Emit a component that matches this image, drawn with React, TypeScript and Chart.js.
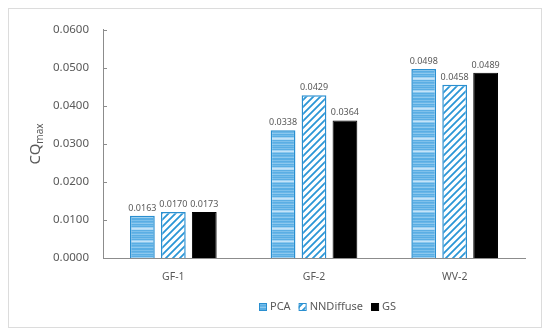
import React, { useEffect, useRef } from "react";
import { Chart, registerables } from "chart.js";

Chart.register(...registerables);

const categories = ["GF-1", "GF-2", "WV-2"];
const seriesNames = ["PCA", "NNDiffuse", "GS"];
const pcaValues = [0.0111, 0.0336, 0.0497];
const nndValues = [0.0121, 0.0428, 0.0456];
const gsValues = [0.0121, 0.0362, 0.0487];
const pcaLabels = ["0.0163", "0.0338", "0.0498"];
const nndLabels = ["0.0170", "0.0429", "0.0458"];
const gsLabels = ["0.0173", "0.0364", "0.0489"];
const yMin = 0;
const yMax = 0.06;
const yStep = 0.01;
const yTitleMain = "CQ";
const yTitleSub = "max";

const FONT = "'Noto Sans', 'Open Sans', sans-serif";
const TEXT = "#595959";
const AXIS = "#8c8c8c";

function makeStripePattern(): CanvasPattern | string {
  const c = document.createElement("canvas");
  c.width = 4;
  c.height = 30;
  const g = c.getContext("2d");
  if (!g) return "#5aaee3";
  const rows = [
    "#5aaee4", "#7dc0eb", "#5aaee4", "#6ab6e7", "#8cc8ee", "#5aaee4",
    "#74bce9", "#5aaee4", "#9fd1f2", "#c4e3f8", "#b2daf5", "#5aaee4",
    "#7dc0eb", "#5aaee4", "#6ab6e7", "#8cc8ee", "#5aaee4", "#74bce9",
    "#5aaee4", "#7dc0eb", "#5aaee4", "#9fd1f2", "#c4e3f8", "#8cc8ee",
    "#5aaee4", "#74bce9", "#5aaee4", "#6ab6e7", "#8cc8ee", "#5aaee4",
  ];
  rows.forEach((col, i) => {
    g.fillStyle = col;
    g.fillRect(0, i, 4, 1);
  });
  return g.createPattern(c, "repeat") || "#5aaee3";
}

function makeHatchPattern(): CanvasPattern | string {
  const s = 7;
  const c = document.createElement("canvas");
  c.width = s;
  c.height = s;
  const g = c.getContext("2d");
  if (!g) return "#ffffff";
  g.fillStyle = "#ffffff";
  g.fillRect(0, 0, s, s);
  g.strokeStyle = "#2b96d6";
  g.lineWidth = 1.8;
  g.beginPath();
  g.moveTo(-1, s + 1);
  g.lineTo(s + 1, -1);
  g.moveTo(-1, 1);
  g.lineTo(1, -1);
  g.moveTo(s - 1, s + 1);
  g.lineTo(s + 1, s - 1);
  g.stroke();
  return g.createPattern(c, "repeat") || "#ffffff";
}

export default function App() {
  const ref = useRef<HTMLCanvasElement | null>(null);

  useEffect(() => {
    if (!ref.current) return;
    const stripe = makeStripePattern();
    const hatch = makeHatchPattern();
    const allLabels = [pcaLabels, nndLabels, gsLabels];
    const fills = [stripe, hatch, "#000000"];
    const borders = ["#2a8fd0", "#2a8fd0", "#000000"];

    const extras = {
      id: "extras",
      afterDatasetsDraw(chart: any) {
        const ctx = chart.ctx;
        ctx.save();
        ctx.font = `9px ${FONT}`;
        ctx.fillStyle = TEXT;
        ctx.textAlign = "center";
        ctx.textBaseline = "bottom";
        chart.data.datasets.forEach((_d: any, i: number) => {
          const meta = chart.getDatasetMeta(i);
          meta.data.forEach((el: any, j: number) => {
            ctx.fillText(allLabels[i][j], el.x, el.y - 3);
          });
        });
        const ys = chart.scales.y;
        const area = chart.chartArea;
        ctx.strokeStyle = AXIS;
        ctx.lineWidth = 1;
        ys.ticks.forEach((t: any) => {
          const y = Math.round(ys.getPixelForValue(t.value)) + 0.5;
          ctx.beginPath();
          ctx.moveTo(area.left, y);
          ctx.lineTo(area.left + 4, y);
          ctx.stroke();
        });
        ctx.fillStyle = TEXT;
        ctx.translate(27, (area.top + area.bottom) / 2);
        ctx.rotate(-Math.PI / 2);
        ctx.textBaseline = "middle";
        ctx.textAlign = "left";
        ctx.font = `15px ${FONT}`;
        const w1 = ctx.measureText(yTitleMain).width;
        ctx.font = `10px ${FONT}`;
        const w2 = ctx.measureText(yTitleSub).width;
        const startX = -(w1 + w2) / 2;
        ctx.font = `15px ${FONT}`;
        ctx.fillText(yTitleMain, startX, 0);
        ctx.font = `10px ${FONT}`;
        ctx.fillText(yTitleSub, startX + w1, 4);
        ctx.restore();

        ctx.save();
        ctx.font = `11px ${FONT}`;
        ctx.textBaseline = "middle";
        ctx.textAlign = "left";
        let x = 250;
        const cy = 298;
        seriesNames.forEach((name, i) => {
          ctx.fillStyle = fills[i] as any;
          ctx.fillRect(x, cy - 3.5, 7, 7);
          ctx.strokeStyle = borders[i];
          ctx.lineWidth = 1;
          ctx.strokeRect(x + 0.5, cy - 3.5, 7, 7);
          x += 11;
          ctx.fillStyle = TEXT;
          ctx.fillText(name, x, cy);
          x += ctx.measureText(name).width + 8;
        });
        ctx.restore();
      },
    };

    const chart = new Chart(ref.current, {
      type: "bar",
      data: {
        labels: categories,
        datasets: [
          { label: seriesNames[0], data: pcaValues, backgroundColor: stripe as any, borderColor: borders[0], borderWidth: 1.5 },
          { label: seriesNames[1], data: nndValues, backgroundColor: hatch as any, borderColor: borders[1], borderWidth: 1.5 },
          { label: seriesNames[2], data: gsValues, backgroundColor: "#000000", borderColor: borders[2], borderWidth: 1 },
        ],
      },
      options: {
        animation: false,
        responsive: false,
        maintainAspectRatio: false,
        layout: { padding: { top: 15, right: 16, bottom: 0, left: 0 } },
        datasets: { bar: { categoryPercentage: 0.66, barPercentage: 0.8 } },
        plugins: {
          legend: { display: false },
          tooltip: { enabled: false },
          title: { display: false },
        },
        scales: {
          x: {
            grid: { display: false, drawTicks: false },
            border: { display: true, color: AXIS, width: 1 },
            ticks: { color: TEXT, font: { family: FONT, size: 10.5 }, padding: 13 },
            afterFit: (s: any) => { s.height = 69; },
          },
          y: {
            min: yMin,
            max: yMax,
            grid: { display: false, drawTicks: false },
            border: { display: true, color: AXIS, width: 1 },
            ticks: {
              stepSize: yStep,
              color: TEXT,
              font: { family: FONT, size: 11.5 },
              padding: 14,
              callback: (v: any) => Number(v).toFixed(4),
            },
            afterFit: (s: any) => { s.width = 94; },
          },
        },
      },
      plugins: [extras],
    });
    return () => chart.destroy();
  }, []);

  return (
    <div
      style={{
        width: 532,
        height: 318,
        border: "1px solid #dcdcdc",
        boxShadow: "1px 2px 2px #d0d0d0",
        background: "#fff",
      }}
    >
      <canvas ref={ref} width={532} height={318} style={{ display: "block" }} />
    </div>
  );
}
